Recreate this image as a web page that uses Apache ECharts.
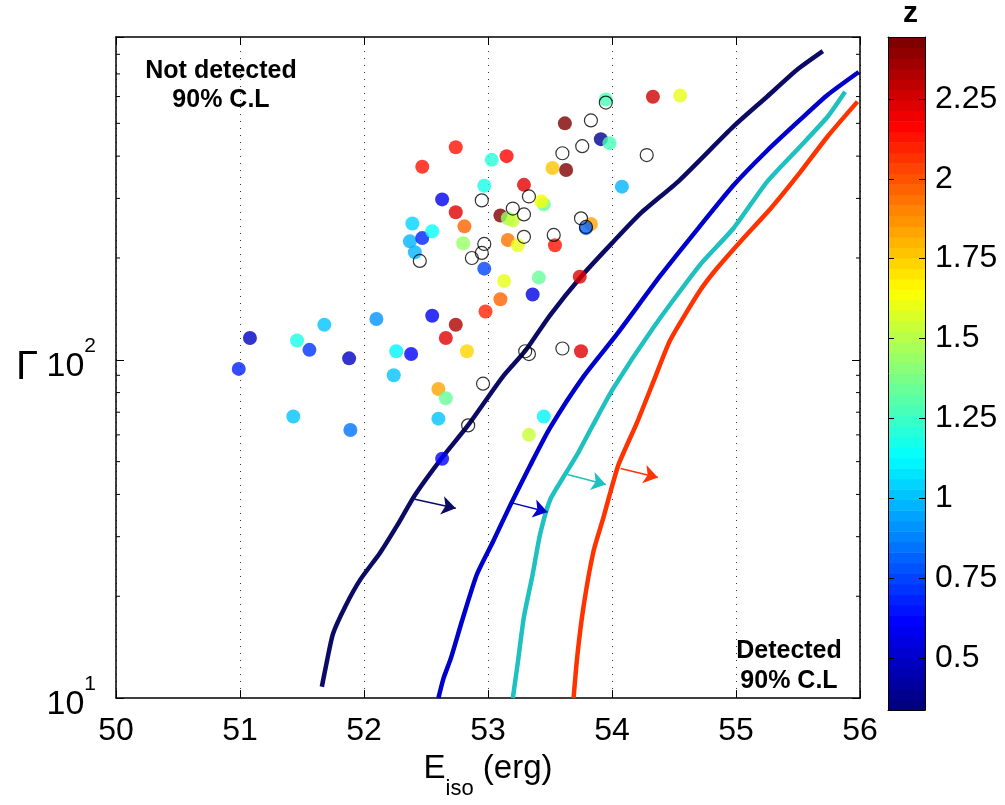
<!DOCTYPE html>
<html><head><meta charset="utf-8">
<script src="https://cdn.jsdelivr.net/npm/echarts@6/dist/echarts.min.js"></script>
<style>html,body{margin:0;padding:0;background:#fff}#c{width:1005px;height:805px}</style>
</head><body><div id="c"></div>
<script>
const FONT = '"Liberation Sans", Arial, Helvetica, sans-serif';

// ---- axis ticks ----
const xTicks = [50, 51, 52, 53, 54, 55, 56];
const yMinorTicks = [20, 30, 40, 50, 60, 70, 80, 90, 200, 300, 400, 500, 600, 700, 800];
const zTicks = [0.5, 0.75, 1, 1.25, 1.5, 1.75, 2, 2.25];
const zMin = 0.337, zMax = 2.444;

// ---- GRBs with measured redshift (E_iso log10 erg, Gamma, z) ----
const detE = [50.99, 51.08, 51.46, 51.56, 51.68, 51.88, 51.43, 51.89, 52.10, 52.26,
  52.38, 52.24, 52.60, 52.66, 52.60, 52.63, 52.55, 52.74, 52.66, 52.83,
  52.98, 53.10, 53.13, 53.41, 53.36, 52.97, 52.80, 52.81, 53.16, 53.24,
  53.54, 52.37, 52.41, 52.47, 52.55, 52.39, 52.47, 52.74, 53.03, 53.15,
  52.97, 52.63, 52.74, 53.29, 53.10, 53.16, 53.20, 53.45, 53.43, 53.52,
  53.63, 53.62, 53.95, 54.33, 54.55, 53.91, 53.98, 54.08, 53.83, 53.79,
  53.74, 53.75, 53.45, 53.33];
const detG = [94, 116, 114, 107, 127, 101, 68, 62, 132, 106,
  104, 90, 82, 77, 67, 51, 135, 127, 116, 106,
  139, 151, 171, 175, 156, 186, 221, 248, 226, 218,
  218, 224, 208, 229, 240, 253, 372, 425, 390, 400,
  327, 298, 273, 329, 267, 262, 258, 288, 294, 369,
  364, 500, 588, 599, 604, 449, 437, 325, 252, 245,
  176, 106, 68, 60];
const detZ = [0.67, 0.5, 1.19, 0.73, 1.02, 0.47, 1.0, 0.86, 0.9, 1.12,
  0.63, 1.0, 1.83, 1.33, 1.0, 0.62, 0.6, 2.34, 2.24, 1.73,
  2.1, 1.98, 1.62, 1.33, 0.56, 0.76, 1.45, 1.98, 1.95, 1.62,
  2.12, 0.97, 0.97, 0.67, 1.13, 1.05, 2.12, 2.12, 1.22, 2.15,
  1.19, 0.57, 2.24, 2.22, 2.44, 1.45, 1.55, 1.33, 1.65, 1.78,
  2.44, 2.44, 1.29, 2.27, 1.62, 0.37, 1.26, 0.97, 1.82, 0.83,
  2.22, 2.22, 1.1, 1.55];

// ---- GRBs without redshift (open circles) ----
const noZE = [52.45, 52.87, 52.95, 52.97, 52.95, 53.20, 53.29, 53.33, 53.29, 53.53,
  53.75, 53.79, 53.60, 53.76, 53.83, 53.95, 54.28, 53.30, 53.33, 53.60, 52.96, 52.84];
const noZG = [196, 200, 207, 220, 296, 280, 269, 304, 231, 234,
  262, 247, 408, 428, 510, 576, 403, 106, 104, 108, 85, 64];

// ---- detection limit curves ----
const navyE = [51.66, 51.70, 51.75, 51.85, 51.97, 52.13, 52.27, 52.41, 52.63, 52.84, 53.12, 53.30, 53.50, 53.75, 54.00, 54.23, 54.54, 54.98, 55.25, 55.49, 55.70];
const navyG = [10.8, 12.8, 15.5, 18.7, 22.4, 26.9, 32.5, 39.8, 51.4, 64.1, 89.2, 106.2, 135.4, 176.1, 221.3, 270.9, 338.2, 489.7, 599.4, 718.8, 817.1];
const blueE = [52.60, 52.64, 52.70, 52.79, 52.91, 53.04, 53.18, 53.34, 53.50, 53.77, 54.04, 54.39, 54.70, 54.98, 55.25, 55.52, 55.74, 55.99];
const blueG = [10.0, 11.4, 13.1, 16.9, 23.2, 29.0, 37.2, 48.7, 62.9, 89.2, 119.1, 177.3, 246.0, 328.0, 415.0, 513.5, 607.5, 709.3];
const tealE = [53.20, 53.24, 53.29, 53.36, 53.42, 53.50, 53.60, 53.72, 53.84, 54.01, 54.33, 54.71, 54.98, 55.25, 55.52, 55.74, 55.88];
const tealG = [10.0, 12.7, 17.4, 23.2, 30.5, 38.5, 44.5, 52.5, 63.5, 82.3, 124.0, 190.9, 244.9, 335.9, 428.1, 524.0, 620.0];
const redE = [53.69, 53.72, 53.77, 53.85, 53.93, 54.05, 54.20, 54.35, 54.47, 54.71, 54.85, 55.06, 55.28, 55.52, 55.74, 55.98];
const redG = [10.0, 13.3, 18.6, 27.1, 34.1, 48.7, 65.0, 89.2, 114.4, 160.2, 187.1, 228.9, 280.2, 359.4, 458.0, 579.7];
const curveColors = ['#0b0b66', '#0000cc', '#1fc0c0', '#ff3300'];

// ---- arrows (start / end in data units) ----
const arrowStartE = [52.41, 53.20, 53.64, 54.07];
const arrowStartG = [38.7, 37.7, 45.8, 47.7];
const arrowEndE = [52.74, 53.48, 53.95, 54.37];
const arrowEndG = [36.4, 35.5, 42.8, 44.9];

function clamp(v) { return Math.max(0, Math.min(1, v)); }
function jet(t) {
  t = clamp(t);
  const idx = Math.min(63, Math.floor(t * 64));
  const tt = idx / 63;
  const r = clamp(1.5 - Math.abs(4 * tt - 3));
  const g = clamp(1.5 - Math.abs(4 * tt - 2));
  const b = clamp(1.5 - Math.abs(4 * tt - 1));
  return 'rgb(' + Math.round(r * 255) + ',' + Math.round(g * 255) + ',' + Math.round(b * 255) + ')';
}
const zColor = z => jet((z - zMin) / (zMax - zMin));

const nBands = 64;
const bandIdx = Array.from({length: nBands}, (_, i) => i);

function zip(a, b) { return a.map((v, i) => [v, b[i]]); }

const chart = echarts.init(document.getElementById('c'), null, {renderer: 'canvas'});

const axisBlack = {color: '#000', width: 1.5};

function curveSeries(E, G, color) {
  return {
    type: 'line', xAxisIndex: 0, yAxisIndex: 0, data: zip(E, G),
    showSymbol: false, symbol: 'none', smooth: 0.2, z: 2, silent: true,
    lineStyle: {color: color, width: 4.5, join: 'round', cap: 'butt'}
  };
}

const option = {
  animation: false,
  backgroundColor: '#fff',
  textStyle: {fontFamily: FONT},
  title: {
    text: 'z', left: 898, top: -6,
    textStyle: {fontFamily: FONT, fontSize: 30, fontWeight: 'bold', color: '#000'}
  },
  grid: [
    {left: 116, top: 37, width: 744, height: 668},
    {left: 888, top: 37, width: 37, height: 673}
  ],
  xAxis: [
    {
      gridIndex: 0, type: 'value', min: 50, max: 56, interval: 1, position: 'bottom',
      axisLine: {show: true, onZero: false, lineStyle: axisBlack},
      axisTick: {show: true, inside: true, length: 8, lineStyle: {color: '#000'}},
      axisLabel: {fontSize: 32, color: '#000', margin: 17, fontFamily: FONT,
        customValues: xTicks},
      splitLine: {show: true, lineStyle: {type: [1, 6], color: '#333', width: 1}},
      name: '{b|E}{s|iso}{b| (erg)}', nameLocation: 'middle', nameGap: 52,
      nameTextStyle: {
        rich: {
          b: {fontSize: 33, color: '#000', fontFamily: FONT, verticalAlign: 'top'},
          s: {fontSize: 22, color: '#000', fontFamily: FONT, verticalAlign: 'top', padding: [26, 0, 0, 0]}
        }
      }
    },
    {
      gridIndex: 0, type: 'value', min: 50, max: 56, interval: 1, position: 'top',
      axisLine: {show: true, onZero: false, lineStyle: axisBlack},
      axisTick: {show: true, inside: true, length: 8, lineStyle: {color: '#000'}},
      axisLabel: {show: false}, splitLine: {show: false}
    },
    {
      gridIndex: 1, type: 'value', min: 0, max: 1, position: 'bottom', z: 10,
      axisLine: {show: true, onZero: false, lineStyle: {color: '#000', width: 1}},
      axisTick: {show: false}, axisLabel: {show: false}, splitLine: {show: false}
    },
    {
      gridIndex: 1, type: 'value', min: 0, max: 1, position: 'top', z: 10,
      axisLine: {show: true, onZero: false, lineStyle: {color: '#000', width: 1}},
      axisTick: {show: false}, axisLabel: {show: false}, splitLine: {show: false}
    }
  ],
  yAxis: [
    {
      gridIndex: 0, type: 'log', logBase: 10, min: 10, max: 900, position: 'left',
      axisLine: {show: true, onZero: false, lineStyle: axisBlack},
      axisTick: {show: true, inside: true, length: 8, lineStyle: {color: '#000'}},
      splitLine: {show: false},
      axisLabel: {
        margin: 20, color: '#000',
        formatter: function (v) {
          const e = Math.log10(v);
          if (Math.abs(e - Math.round(e)) > 1e-6) return '';
          return '{b|10}{s|' + Math.round(e) + '}';
        },
        rich: {
          b: {fontSize: 34, color: '#000', fontFamily: FONT, verticalAlign: 'top', padding: [14, 0, 0, 0]},
          s: {fontSize: 21, color: '#000', fontFamily: FONT, verticalAlign: 'top'}
        }
      },
      name: '\u0393', nameLocation: 'middle', nameRotate: 0, nameGap: 78,
      nameTextStyle: {fontSize: 40, color: '#000', fontFamily: FONT}
    },
    {
      gridIndex: 0, type: 'log', logBase: 10, min: 10, max: 900, position: 'right',
      axisLine: {show: true, onZero: false, lineStyle: axisBlack},
      axisTick: {show: true, inside: true, length: 8, lineStyle: {color: '#000'}},
      axisLabel: {show: false}, splitLine: {show: false}
    },
    {
      gridIndex: 1, type: 'value', min: zMin, max: zMax, position: 'right', z: 10,
      axisLine: {show: true, onZero: false, lineStyle: {color: '#000', width: 1}},
      axisTick: {show: true, inside: true, length: 6, customValues: zTicks, lineStyle: {color: '#000'}},
      axisLabel: {show: true, customValues: zTicks, fontSize: 32, color: '#000', margin: 10, fontFamily: FONT},
      splitLine: {show: false}
    },
    {
      gridIndex: 1, type: 'value', min: zMin, max: zMax, position: 'left', z: 10,
      axisLine: {show: true, onZero: false, lineStyle: {color: '#000', width: 1}},
      axisTick: {show: true, inside: true, length: 6, customValues: zTicks, lineStyle: {color: '#000'}},
      axisLabel: {show: false}, splitLine: {show: false}
    }
  ],
  graphic: [
    {
      type: 'text', x: 221, y: 86, z: 100,
      style: {text: 'Not detected\n90% C.L', font: 'bold 25px ' + FONT, fill: '#000',
        align: 'center', verticalAlign: 'middle', lineHeight: 29}
    },
    {
      type: 'text', x: 789, y: 666, z: 100,
      style: {text: 'Detected\n90% C.L', font: 'bold 25px ' + FONT, fill: '#000',
        align: 'center', verticalAlign: 'middle', lineHeight: 30}
    }
  ],
  series: [
    curveSeries(navyE, navyG, curveColors[0]),
    curveSeries(blueE, blueG, curveColors[1]),
    curveSeries(tealE, tealG, curveColors[2]),
    curveSeries(redE, redG, curveColors[3]),
    {
      type: 'lines', coordinateSystem: 'cartesian2d', xAxisIndex: 0, yAxisIndex: 0, z: 3, silent: true,
      symbol: ['none', 'arrow'], symbolSize: 14,
      lineStyle: {opacity: 1, width: 1.5},
      data: arrowStartE.map((e, i) => ({
        coords: [[e, arrowStartG[i]], [arrowEndE[i], arrowEndG[i]]],
        lineStyle: {color: curveColors[i], width: 1.5, opacity: 1}
      }))
    },
    {
      type: 'scatter', xAxisIndex: 0, yAxisIndex: 0, z: 4, silent: true,
      symbol: 'circle', symbolSize: 14,
      data: detE.map((e, i) => ({value: [e, detG[i]], itemStyle: {color: zColor(detZ[i])}}))
    },
    {
      type: 'scatter', xAxisIndex: 0, yAxisIndex: 0, z: 5, silent: true,
      symbol: 'circle', symbolSize: 13,
      itemStyle: {color: 'rgba(0,0,0,0)', borderColor: '#000', borderWidth: 1.2},
      data: zip(noZE, noZG)
    },
    {
      type: 'custom', xAxisIndex: 0, yAxisIndex: 0, z: 6, silent: true, clip: false,
      data: yMinorTicks.map(v => [50, v]),
      renderItem: function (params, api) {
        const v = api.value(1);
        const pL = api.coord([50, v]);
        const pR = api.coord([56, v]);
        return {
          type: 'group', children: [
            {type: 'line', shape: {x1: pL[0], y1: pL[1], x2: pL[0] + 4, y2: pL[1]}, style: {stroke: '#000', lineWidth: 1}},
            {type: 'line', shape: {x1: pR[0], y1: pR[1], x2: pR[0] - 4, y2: pR[1]}, style: {stroke: '#000', lineWidth: 1}}
          ]
        };
      }
    },
    {
      type: 'custom', xAxisIndex: 2, yAxisIndex: 2, z: 2, silent: true,
      data: bandIdx.map(i => [0, i]),
      renderItem: function (params, api) {
        const i = api.value(1);
        const step = (zMax - zMin) / nBands;
        const lo = zMin + i * step, hi = lo + step;
        const p0 = api.coord([0, lo]);
        const p1 = api.coord([1, hi]);
        return {
          type: 'rect',
          shape: {x: p0[0], y: p1[1], width: p1[0] - p0[0], height: p0[1] - p1[1] + 0.6},
          style: {fill: jet((i + 0.5) / nBands)}
        };
      }
    }
  ]
};
chart.setOption(option);
</script>
</body></html>
